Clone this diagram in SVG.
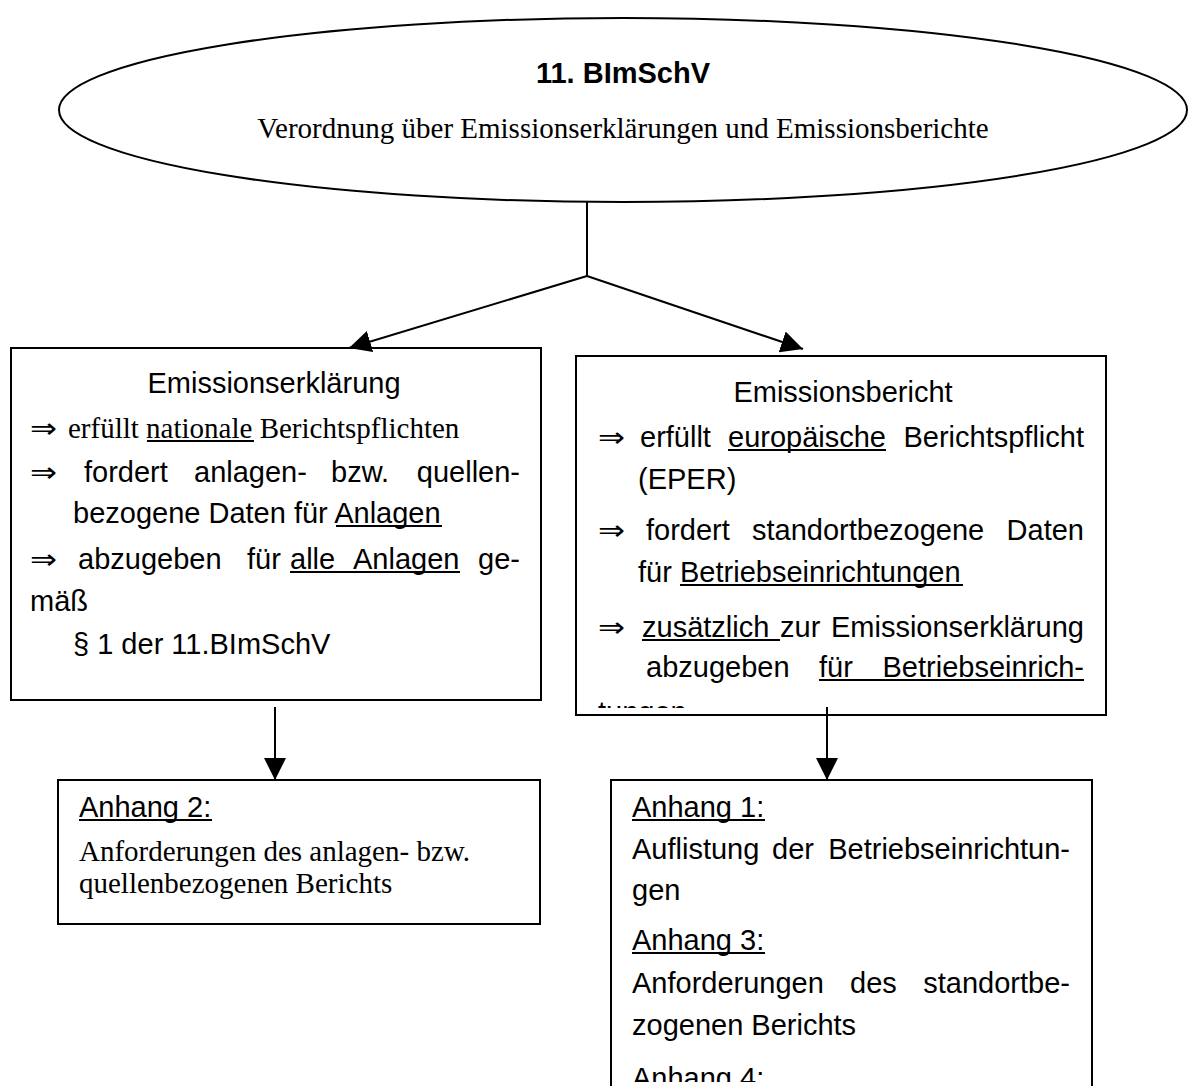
<svg xmlns="http://www.w3.org/2000/svg" width="1189" height="1086" viewBox="0 0 1189 1086">
<style>
.box{fill:#fff;stroke:#000;stroke-width:2}
.sans{font-family:"Liberation Sans",Arial,sans-serif;font-size:29px;fill:#000}
.serif{font-family:"Liberation Serif","Times New Roman",serif;font-size:29px;fill:#000}
.arr{font-family:"DejaVu Sans",sans-serif;font-size:28px;fill:#000}
.ul{stroke:#000;stroke-width:2}
.conn{stroke:#000;stroke-width:2;fill:none}
</style>
<defs>
<marker id="ah" markerUnits="userSpaceOnUse" markerWidth="22" markerHeight="22" viewBox="0 0 20 20" refX="20" refY="10" orient="auto"><path d="M0,0 L20,10 L0,20 z" fill="#000"/></marker>
<clipPath id="clipB"><rect x="577" y="357" width="528" height="351"/></clipPath>
<clipPath id="clipA1"><rect x="0" y="780" width="1189" height="302"/></clipPath>
</defs>

<g id="node-blmschv">
<ellipse cx="623" cy="110" rx="564" ry="92" fill="#fff" stroke="#000" stroke-width="2"/>
<text class="sans" x="623" y="83" text-anchor="middle" font-weight="bold" font-size="30">11. BImSchV</text>
<text class="serif" x="623" y="138" font-size="33.5" text-anchor="middle">Verordnung über Emissionserklärungen und Emissionsberichte</text>
</g>

<g id="node-emissionserklaerung">
<rect class="box" x="11" y="348" width="530" height="352"/>
<text class="sans" x="274" y="393" text-anchor="middle">Emissionserklärung</text>
<text class="arr" x="30" y="438" textLength="27" lengthAdjust="spacingAndGlyphs">⇒</text>
<text class="serif" x="68" y="438">erfüllt nationale Berichtspflichten</text>
<line class="ul" x1="147" y1="441" x2="254" y2="441"/>
<text class="arr" x="30" y="482" textLength="27" lengthAdjust="spacingAndGlyphs">⇒</text>
<text class="sans" y="482"><tspan x="84">fordert</tspan><tspan x="194">anlagen-</tspan><tspan x="331">bzw.</tspan></text>
<text class="sans" x="520" y="482" text-anchor="end">quellen-</text>
<text class="sans" x="73" y="523">bezogene Daten für Anlagen</text>
<line class="ul" x1="336" y1="526" x2="442" y2="526"/>
<text class="arr" x="30" y="569" textLength="27" lengthAdjust="spacingAndGlyphs">⇒</text>
<text class="sans" y="569"><tspan x="78">abzugeben</tspan><tspan x="247">für</tspan><tspan x="290">alle</tspan><tspan x="353">Anlagen</tspan></text>
<text class="sans" x="520" y="569" text-anchor="end">ge-</text>
<line class="ul" x1="290" y1="572" x2="460" y2="572"/>
<text class="sans" x="30" y="611">mäß</text>
<text class="sans" x="73" y="654">§ 1 der 11.BImSchV</text>
</g>

<g id="node-emissionsbericht">
<rect class="box" x="576" y="356" width="530" height="359"/>
<text class="sans" x="843" y="402" text-anchor="middle">Emissionsbericht</text>
<text class="arr" x="598" y="447" textLength="27" lengthAdjust="spacingAndGlyphs">⇒</text>
<text class="sans" y="447"><tspan x="640">erfüllt</tspan><tspan x="728">europäische</tspan></text>
<text class="sans" x="1084" y="447" text-anchor="end">Berichtspflicht</text>
<line class="ul" x1="728" y1="450" x2="886" y2="450"/>
<text class="sans" x="638" y="489">(EPER)</text>
<text class="arr" x="598" y="540" textLength="27" lengthAdjust="spacingAndGlyphs">⇒</text>
<text class="sans" y="540"><tspan x="646">fordert</tspan><tspan x="752">standortbezogene</tspan></text>
<text class="sans" x="1084" y="540" text-anchor="end">Daten</text>
<text class="sans" y="582"><tspan x="638">für</tspan><tspan x="680">Betriebseinrichtungen</tspan></text>
<line class="ul" x1="680" y1="585" x2="963" y2="585"/>
<text class="arr" x="598" y="637" textLength="27" lengthAdjust="spacingAndGlyphs">⇒</text>
<text class="sans" y="637"><tspan x="642">zusätzlich</tspan><tspan x="780">zur</tspan></text>
<text class="sans" x="1084" y="637" text-anchor="end">Emissionserklärung</text>
<line class="ul" x1="642" y1="640" x2="780" y2="640"/>
<text class="sans" y="677"><tspan x="646">abzugeben</tspan><tspan x="819">für</tspan></text>
<text class="sans" x="1084" y="677" text-anchor="end">Betriebseinrich-</text>
<line class="ul" x1="819" y1="680" x2="1084" y2="680"/>
<text class="sans" x="598" y="722" clip-path="url(#clipB)">tungen</text>
</g>

<g id="node-anhang2">
<rect class="box" x="58" y="780" width="482" height="144"/>
<text class="sans" x="79" y="817">Anhang 2:</text>
<line class="ul" x1="79" y1="820" x2="212" y2="820"/>
<text class="serif" x="79" y="861">Anforderungen des anlagen- bzw.</text>
<text class="serif" x="79" y="893">quellenbezogenen Berichts</text>
</g>

<g id="node-anhang1">
<rect class="box" x="611" y="780" width="481" height="320"/>
<text class="sans" x="632" y="817">Anhang 1:</text>
<line class="ul" x1="632" y1="820" x2="765" y2="820"/>
<text class="sans" y="859"><tspan x="632">Auflistung</tspan><tspan x="772">der</tspan></text>
<text class="sans" x="1070" y="859" text-anchor="end">Betriebseinrichtun-</text>
<text class="sans" x="632" y="900">gen</text>
<text class="sans" x="632" y="950">Anhang 3:</text>
<line class="ul" x1="632" y1="953" x2="765" y2="953"/>
<text class="sans" y="993"><tspan x="632">Anforderungen</tspan><tspan x="850">des</tspan></text>
<text class="sans" x="1070" y="993" text-anchor="end">standortbe-</text>
<text class="sans" x="632" y="1035">zogenen Berichts</text>
<text class="sans" x="632" y="1088" clip-path="url(#clipA1)">Anhang 4:</text>
</g>

<g id="connectors">
<line class="conn" x1="587" y1="202" x2="587" y2="276"/>
<line class="conn" x1="587" y1="276" x2="349" y2="348" marker-end="url(#ah)"/>
<line class="conn" x1="587" y1="276" x2="803" y2="349" marker-end="url(#ah)"/>
<line class="conn" x1="275" y1="707" x2="275" y2="780" marker-end="url(#ah)"/>
<line class="conn" x1="827" y1="707" x2="827" y2="780" marker-end="url(#ah)"/>
</g>
</svg>
